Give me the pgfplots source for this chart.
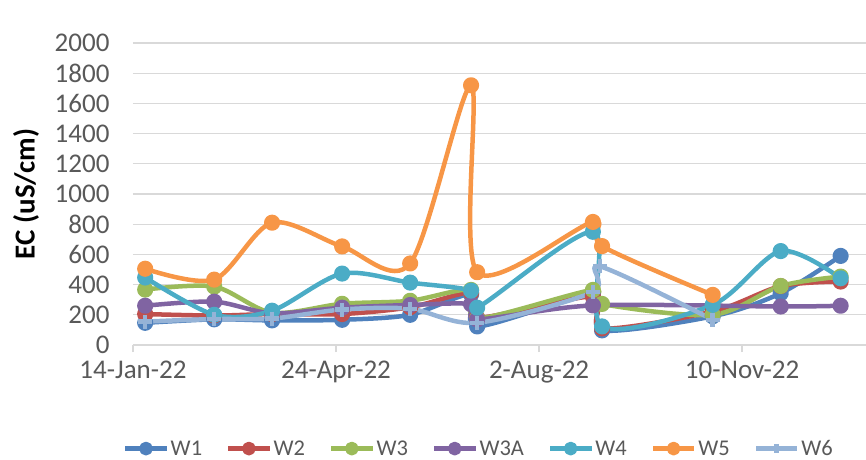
\documentclass[border=0pt]{standalone}
\usepackage{fontspec}
\setmainfont{Carlito}
\usepackage{pgfplots}
\pgfplotsset{compat=1.18}
\definecolor{cW1}{HTML}{4F81BD}
\definecolor{cW2}{HTML}{C0504D}
\definecolor{cW3}{HTML}{9BBB59}
\definecolor{cW3A}{HTML}{8064A2}
\definecolor{cW4}{HTML}{4BACC6}
\definecolor{cW5}{HTML}{F79646}
\definecolor{cW6}{HTML}{95B3D7}
\definecolor{gridgray}{HTML}{D9D9D9}
\definecolor{labelgray}{HTML}{595959}
\begin{document}
\begin{tikzpicture}
\useasboundingbox (-133bp,-115bp) rectangle (733bp,345bp);
\begin{axis}[
  at={(0,0)}, anchor=south west,
  scale only axis, width=733bp, height=302bp,
  xmin=0, xmax=361, ymin=0, ymax=2000,
  clip=false,
  axis x line*=bottom, axis y line*=left,
  y axis line style={draw=none},
  x axis line style={draw=gridgray, line width=1.3bp, -},
  xtick={0,100,200,300},
  xticklabels={14-Jan-22,24-Apr-22,2-Aug-22,10-Nov-22},
  ytick={0,200,...,2000},
  ymajorgrids, grid style={draw=gridgray, line width=1.3bp},
  xtick style={draw=gridgray, line width=1.3bp},
  ytick style={draw=none},
  tick align=outside, major tick length=7bp,
  tick label style={font=\fontsize{27bp}{32bp}\selectfont, text=labelgray},
  /pgf/number format/assume math mode=true,
  /pgf/number format/1000 sep={},
  yticklabel style={xshift=-13bp},
  xticklabel style={yshift=-5bp},
  ylabel={EC (uS/cm)},
  every axis y label/.style={at={(axis description cs:-0.1460,0.5)}, rotate=90, anchor=center, font=\bfseries\fontsize{29bp}{32bp}\selectfont},
  legend style={at={(axis description cs:0.4720,-0.343)}, anchor=center, draw=none, fill=none,
    font=\fontsize{22.5bp}{26bp}\selectfont, text=labelgray, nodes={inner sep=2bp},
    /tikz/every even column/.append style={column sep=22bp}},
  legend columns=7,
  legend image code/.code={\draw[mark repeat=2,mark phase=2, mark size=4.6bp] plot coordinates {(0bp,0bp) (20.5bp,0bp) (41bp,0bp)};},
  every axis plot/.append style={line width=4.5bp, smooth, line join=round, mark size=5.8bp},
]
\addplot[color=cW1, mark=*] coordinates {(6,147) (40,170) (68.5,163) (103,167) (136.5,200) (166.5,335) (169.5,123) (226.5,330) (231,97) (285.5,190) (319,343) (348.5,590)};
\addlegendentry{W1}
\addplot[color=cW2, mark=*] coordinates {(6,205) (40,195) (68.5,205) (103,205) (136.5,250) (166.5,345) (169.5,180) (226.5,320) (231,110) (285.5,222) (319,390) (348.5,420)};
\addlegendentry{W2}
\addplot[color=cW3, mark=*] coordinates {(6,367) (40,387) (68.5,214) (103,273) (136.5,293) (166.5,365) (169.5,175) (226.5,365) (231,272) (285.5,200) (319,391) (348.5,453)};
\addlegendentry{W3}
\addplot[color=cW3A, mark=*] coordinates {(6,260) (40,287) (68.5,210) (103,247) (136.5,265) (166.5,270) (169.5,170) (226.5,262) (319,255) (348.5,260)};
\addlegendentry{W3A}
\addplot[color=cW4, mark=*] coordinates {(6,447) (40,200) (68.5,227) (103,473) (136.5,413) (166.5,360) (169.5,247) (226.5,750) (231,123) (285.5,266) (319,622) (348.5,442)};
\addlegendentry{W4}
\addplot[color=cW5, mark=*] coordinates {(6,505) (40,433) (68.5,810) (103,653) (136.5,540) (166.5,1720) (169.5,482) (226.5,815) (231,655) (285.5,332)};
\addlegendentry{W5}
\addplot[color=cW6, mark=+, mark size=7bp] coordinates {(6,155) (40,172) (68.5,175) (103,235) (136.5,240) (169.5,147) (226.5,350) (230,520) (285.5,167)};
\addlegendentry{W6}
\end{axis}
\end{tikzpicture}
\end{document}
